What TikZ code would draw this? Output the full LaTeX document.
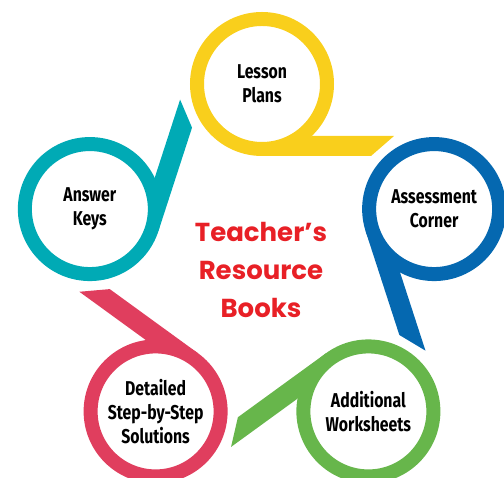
\documentclass[tikz,border=0pt]{standalone}
\usepackage{fontspec}
\usetikzlibrary{calc}
\newfontfamily\labelfont[FakeStretch=0.79]{Fira Sans}
\newfontfamily\titlefont{Poppins}
\definecolor{Sun}{HTML}{F9CF1C}
\definecolor{Ocean}{HTML}{0568B0}
\definecolor{Leaf}{HTML}{67B64B}
\definecolor{Rose}{HTML}{E03E5E}
\definecolor{Lagoon}{HTML}{00AAB5}
\definecolor{Title}{HTML}{E82026}
\tikzset{
  ring/.style={circle,draw,line width=14pt,minimum size=130pt,inner sep=0pt,fill=white,
    align=center,font=\labelfont\bfseries\fontsize{20}{24}\selectfont}
}

\begin{document}
\begin{tikzpicture}[x=1pt,y=1pt]
  \useasboundingbox (0,0) rectangle (504,478);
  \coordinate (mid) at (262,213);
  % five rings round the pentagon, each with its tail
  \foreach \ang/\col/\nm/\txt in {90/Sun/lesson/{Lesson\\Plans},
      18/Ocean/assess/{Assessment\\Corner},
      -54/Leaf/extra/{Additional\\Worksheets},
      -126/Rose/steps/{Detailed\\Step-by-Step\\Solutions},
      162/Lagoon/answers/{Answer\\Keys}}{
    \begin{scope}[shift={($(mid)+(\ang:181)$)},rotate=\ang-90]
      \fill[\col] (0,-72) -- (109,-72) -- (132,-52) -- (50,-52) -- cycle;
    \end{scope}
    \node[ring,draw=\col] (\nm) at ($(mid)+(\ang:181)$) {\txt};
  }
  \node[align=center,text=Title,font=\titlefont\bfseries\fontsize{26}{38}\selectfont] (title) at (261,208) {Teacher’s\\Resource\\Books};
\end{tikzpicture}
\end{document}
